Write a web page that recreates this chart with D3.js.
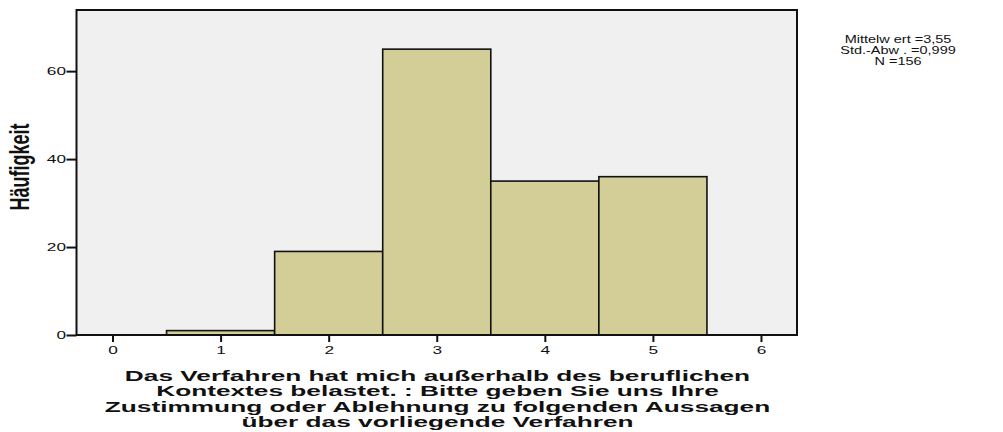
<!DOCTYPE html>
<html><head><meta charset="utf-8">
<script src="https://cdn.jsdelivr.net/npm/d3@7"></script>
<style>body{margin:0;background:#fff}svg{display:block}</style>
</head><body>
<svg id="c" width="1003" height="432"></svg>
<script>
const categories = [1, 2, 3, 4, 5];
const counts = [1, 19, 65, 35, 36];
const xTicks = [0, 1, 2, 3, 4, 5, 6];
const yTicks = [0, 20, 40, 60];
const yTitle = "Häufigkeit";
const xTitleLines = [
  "Das Verfahren hat mich außerhalb des beruflichen",
  "Kontextes belastet. : Bitte geben Sie uns Ihre",
  "Zustimmung oder Ablehnung zu folgenden Aussagen",
  "über das vorliegende Verfahren"
];
const statsLines = ["Mittelw ert =3,55", "Std.-Abw . =0,999", "N =156"];

const svg = d3.select("#c");
const L = 76.5, R = 797, T = 10, B = 335;
const x = d3.scaleLinear().domain([-1/3, 6 + 1/3]).range([L, R]);
const y = d3.scaleLinear().domain([0, 73.9]).range([B, T]);
const font = "Arial, 'Liberation Sans', sans-serif";

svg.append("rect").attr("x", L).attr("y", T).attr("width", R - L).attr("height", B - T)
  .attr("fill", "#f0f0f0");

svg.selectAll("rect.bar").data(categories).join("rect").attr("class", "bar")
  .attr("x", d => x(d - 0.5)).attr("width", d => x(d + 0.5) - x(d - 0.5))
  .attr("y", (d, i) => y(counts[i])).attr("height", (d, i) => y(0) - y(counts[i]))
  .attr("fill", "#d3ce98").attr("stroke", "#111").attr("stroke-width", 1.6);

svg.append("rect").attr("x", L).attr("y", T).attr("width", R - L).attr("height", B - T)
  .attr("fill", "none").attr("stroke", "#111").attr("stroke-width", 2);

const xa = svg.append("g").attr("transform", `translate(0,${B})`)
  .call(d3.axisBottom(x).tickValues(xTicks).tickSize(7).tickPadding(4).tickFormat(d3.format("d")));
xa.select(".domain").remove();
xa.selectAll("line").attr("stroke", "#111").attr("stroke-width", 2);
xa.selectAll("text").attr("font-family", font).attr("font-size", 11.5).attr("fill", "#111")
  .attr("transform", "scale(1.5,1)");

const ya = svg.append("g").attr("transform", `translate(${L},0)`)
  .call(d3.axisLeft(y).tickValues(yTicks).tickSize(10).tickPadding(1).tickFormat(d3.format("d")));
ya.select(".domain").remove();
ya.selectAll("line").attr("stroke", "#111").attr("stroke-width", 2);
ya.selectAll("text").attr("font-family", font).attr("font-size", 11.5).attr("fill", "#111")
  .attr("x", 0).attr("transform", "translate(-10.5,0) scale(1.5,1)");

svg.append("text").attr("transform", "translate(28.5,167) scale(1.5,1) rotate(-90)")
  .attr("text-anchor", "middle").attr("font-family", font)
  .attr("font-weight", "bold").attr("font-size", 18).attr("fill", "#111").text(yTitle);

const xt = svg.append("text").attr("text-anchor", "middle")
  .attr("transform", "translate(437.5,0) scale(1.75,1)")
  .attr("font-family", font).attr("font-weight", "bold").attr("font-size", 15).attr("fill", "#111");
xTitleLines.forEach((s, i) => xt.append("tspan").attr("x", 0).attr("y", 381 + i * 15.3).text(s));

const st = svg.append("text").attr("text-anchor", "middle")
  .attr("transform", "translate(898,0) scale(1.45,1)")
  .attr("font-family", font).attr("font-size", 10).attr("fill", "#111");
statsLines.forEach((s, i) => st.append("tspan").attr("x", 0).attr("y", 43 + i * 11).text(s));
</script>
</body></html>
